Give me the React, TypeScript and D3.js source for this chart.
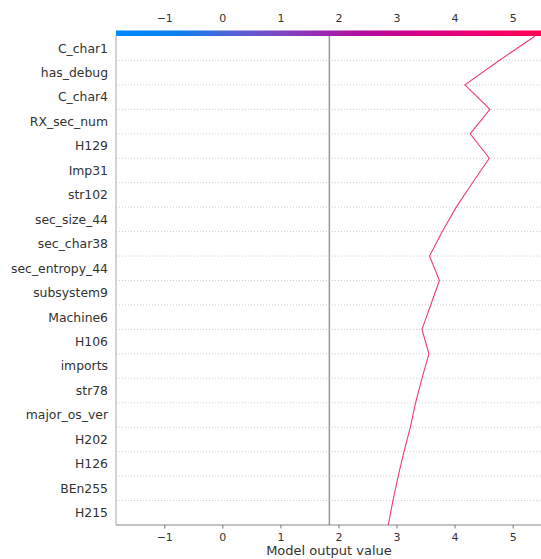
import React, { useEffect, useRef } from 'react';
import * as d3 from 'd3';

// feature rows, top to bottom
const features = [
  "C_char1", "has_debug", "C_char4", "RX_sec_num", "H129", "Imp31", "str102",
  "sec_size_44", "sec_char38", "sec_entropy_44", "subsystem9", "Machine6", "H106",
  "imports", "str78", "major_os_ver", "H202", "H126", "BEn255", "H215"
];
// model output at each row boundary, top (prediction) to bottom
const outputs = [
  5.38, 4.76, 4.17, 4.60, 4.26, 4.59, 4.30, 4.02, 3.78, 3.56, 3.73,
  3.58, 3.43, 3.55, 3.43, 3.32, 3.23, 3.12, 3.02, 2.93, 2.85
];
const baseValue = 1.835;
const xTicks = [-1, 0, 1, 2, 3, 4, 5];
const xDomain = [-1.84, 5.48];
// red_blue colour map stops
const cmapStops = ["#008bfb", "#0b80f0", "#5a5fd6", "#8b3bbd", "#b00e9f", "#d2008a", "#ef0070", "#ff0051"];

const W = 541, H = 559;
const margin = { top: 36, right: 0, bottom: 34, left: 116 };

function App() {
  const ref = useRef<SVGGElement>(null);

  useEffect(() => {
    const g = d3.select(ref.current);
    g.selectAll("*").remove();
    const font = "DejaVu Sans, sans-serif";

    const x = d3.scaleLinear().domain(xDomain).range([margin.left, W - margin.right]);
    const y = d3.scaleLinear().domain([0, features.length]).range([margin.top, H - margin.bottom]);

    // colorbar on top
    const grad = g.append("defs").append("linearGradient").attr("id", "cbar");
    cmapStops.forEach((c, i) => {
      grad.append("stop").attr("offset", i / (cmapStops.length - 1)).attr("stop-color", c);
    });
    g.append("rect")
      .attr("x", margin.left).attr("y", margin.top - 5.5)
      .attr("width", W - margin.left).attr("height", 5.5)
      .attr("fill", "url(#cbar)");

    // dotted grid lines
    g.append("g").selectAll("line")
      .data(d3.range(1, features.length))
      .join("line")
      .attr("x1", margin.left).attr("x2", W)
      .attr("y1", d => y(d)).attr("y2", d => y(d))
      .attr("stroke", "#cccccc").attr("stroke-width", 1)
      .attr("stroke-dasharray", "1,2");

    // base value line
    g.append("line")
      .attr("x1", x(baseValue)).attr("x2", x(baseValue))
      .attr("y1", margin.top).attr("y2", H - margin.bottom)
      .attr("stroke", "#999").attr("stroke-width", 1.5);

    // spines
    g.append("line")
      .attr("x1", margin.left).attr("x2", margin.left)
      .attr("y1", margin.top).attr("y2", H - margin.bottom)
      .attr("stroke", "#aaa").attr("stroke-width", 1);
    g.append("line")
      .attr("x1", margin.left).attr("x2", W)
      .attr("y1", H - margin.bottom).attr("y2", H - margin.bottom)
      .attr("stroke", "#888").attr("stroke-width", 1.2);

    // feature labels
    g.append("g").selectAll("text")
      .data(features)
      .join("text")
      .attr("x", margin.left - 8)
      .attr("y", (d, i) => y(i + 0.5))
      .attr("dy", "0.35em")
      .attr("text-anchor", "end")
      .attr("font-family", font).attr("font-size", 12.4)
      .attr("fill", "#333")
      .text(d => d);

    const fmt = (v: number) => v < 0 ? "\u2212" + Math.abs(v) : String(v);

    // top ticks
    const top = g.append("g");
    xTicks.forEach(v => {
      top.append("line")
        .attr("x1", x(v)).attr("x2", x(v))
        .attr("y1", margin.top - 5.5).attr("y2", margin.top - 3.5)
        .attr("stroke", "#777").attr("stroke-width", 0.8);
      top.append("text")
        .attr("x", x(v)).attr("y", 22)
        .attr("text-anchor", "middle")
        .attr("font-family", font).attr("font-size", 11)
        .attr("fill", "#333")
        .text(fmt(v));
    });

    // bottom ticks
    const bot = g.append("g");
    xTicks.forEach(v => {
      bot.append("line")
        .attr("x1", x(v)).attr("x2", x(v))
        .attr("y1", H - margin.bottom).attr("y2", H - margin.bottom + 3.5)
        .attr("stroke", "#555").attr("stroke-width", 0.8);
      bot.append("text")
        .attr("x", x(v)).attr("y", H - margin.bottom + 16)
        .attr("text-anchor", "middle")
        .attr("font-family", font).attr("font-size", 11)
        .attr("fill", "#333")
        .text(fmt(v));
    });
    g.append("text")
      .attr("x", (margin.left + 438) / 2 + 52).attr("y", H - 4)
      .attr("text-anchor", "middle")
      .attr("font-family", font).attr("font-size", 13)
      .attr("fill", "#333")
      .text("Model output value");

    // decision line
    g.append("path")
      .datum(outputs)
      .attr("fill", "none")
      .attr("stroke", "#ee3d78")
      .attr("stroke-width", 1.1)
      .attr("d", d3.line<number>()
        .x(d => x(d))
        .y((d, i) => y(i)));
  }, []);

  return (
    <svg width={W} height={H} style={{ position: "absolute", left: 0, top: 0, background: "#fff" }}>
      <g ref={ref} />
    </svg>
  );
}

export default App;
